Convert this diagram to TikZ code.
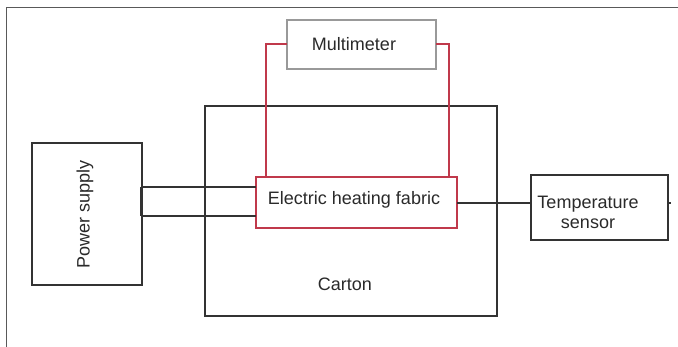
\documentclass[tikz,border=0pt]{standalone}
\usepackage{fontspec}
\setmainfont{Liberation Sans}
\definecolor{wire}{HTML}{C0394B}
\definecolor{ink}{HTML}{333333}
\definecolor{txt}{HTML}{2A2A2A}
\begin{document}
\begin{tikzpicture}[x=1pt,y=-1pt,
  box/.style={draw=ink,line width=1.2pt},
  graybox/.style={draw=black!40,line width=1.2pt},
  redbox/.style={draw=wire,line width=1.2pt},
  redwire/.style={draw=wire,line width=1.3pt},
  blackwire/.style={draw=ink,line width=1.2pt},
  lbl/.style={font=\fontsize{18}{20}\selectfont,text=txt,inner sep=0pt}]
\useasboundingbox (0,0) rectangle (678,347);
\fill[white] (0,0) rectangle (678,347);
% outer frame
\begin{scope}
\clip (0,0) rectangle (678,347);
\draw[draw=black!65,line width=1pt] (6,360) -- (6,8) -- (690,8);
\end{scope}
% boxes
\draw[box] (205,106) rectangle (497,316);
\coordinate (cartonbl) at (205,316);
\node[lbl] (carton) at (345,284) {Carton};
\draw[box] (32,143) rectangle (142,285);
\node[lbl,rotate=90] (power) at (85,214) {Power supply};
\coordinate (psR1) at (141,187);
\coordinate (psR2) at (141,216);
\draw[graybox] (287,20) rectangle (436,69);
\node[lbl] (multi) at (354,44) {Multimeter};
\coordinate (mL) at (287,44);
\coordinate (mR) at (436,44);
\draw[redbox,fill=white] (256,177) rectangle (457,228);
\node[lbl] (fabric) at (354,200) {Electric heating fabric};
\coordinate (fL1) at (256,187);
\coordinate (fL2) at (256,216);
\coordinate (fT1) at (266,177);
\coordinate (fT2) at (449,177);
\coordinate (fR) at (457,203);
\draw[box] (531,175) rectangle (668,240);
\node[lbl,align=center] (sensor) at (588,212) {Temperature\\sensor};
\coordinate (sL) at (531,203);
\coordinate (sR) at (668,203);
\coordinate (sRt) at (671,203);
% wires
\draw[redwire] (mL) -- (fT1 |- mL) -- (fT1);
\draw[redwire] (mR) -- (fT2 |- mR) -- (fT2);
\draw[blackwire] (psR1) -- (fL1);
\draw[blackwire] (psR2) -- (fL2);
\draw[draw=ink,line width=2pt] (psR1) -- (psR2);
\draw[blackwire] (fR) -- (sL);
\draw[draw=ink,line width=1.6pt] (sR) -- (sRt);
\end{tikzpicture}
\end{document}
